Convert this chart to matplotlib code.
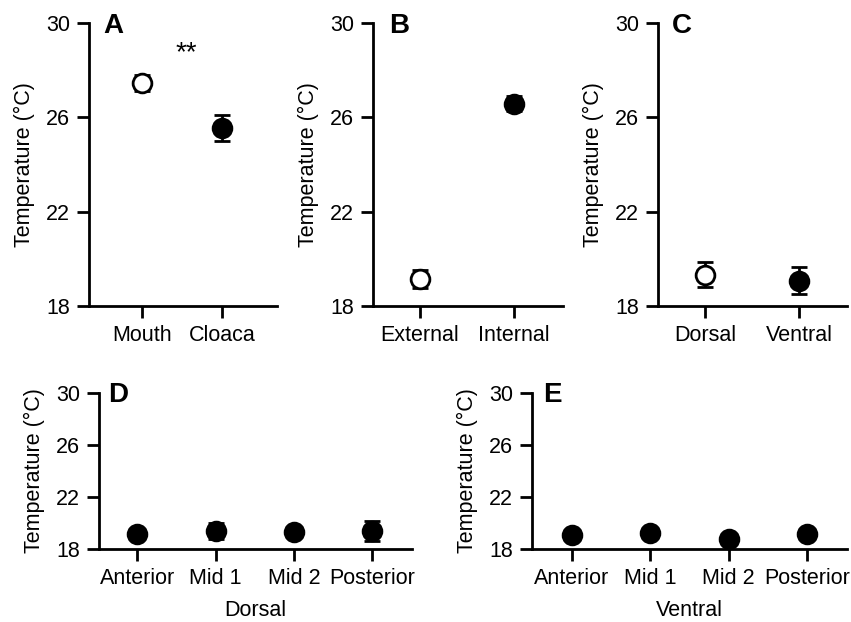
import matplotlib
matplotlib.use("Agg")
import matplotlib.pyplot as plt
from matplotlib.transforms import ScaledTranslation

plt.rcParams['font.family'] = ['Liberation Sans', 'DejaVu Sans']

# Data
a_cats = ["Mouth", "Cloaca"]
a_mean = [27.46, 25.55]
a_err = [0.35, 0.57]
a_fill = ["white", "black"]

b_cats = ["External", "Internal"]
b_mean = [19.15, 26.57]
b_err = [0.38, 0.32]
b_fill = ["white", "black"]

c_cats = ["Dorsal", "Ventral"]
c_mean = [19.32, 19.07]
c_err = [0.53, 0.57]
c_fill = ["white", "black"]

d_cats = ["Anterior", "Mid 1", "Mid 2", "Posterior"]
d_mean = [19.15, 19.38, 19.3, 19.38]
d_err = [0.3, 0.6, 0.35, 0.75]

e_cats = ["Anterior", "Mid 1", "Mid 2", "Posterior"]
e_mean = [19.08, 19.23, 18.77, 19.15]
e_err = [0.3, 0.3, 0.3, 0.3]

yticks = [18, 22, 26, 30]

fig = plt.figure(figsize=(8.51, 6.22), dpi=100)

H = 622.0
W = 851.0
FS = 15.5

def make_ax(x0, x1, ytop, ybot):
    return fig.add_axes([x0 / W, 1 - ybot / H, (x1 - x0) / W, (ybot - ytop) / H])

def style(ax, cats, xlim, letter, dx_px, xlabel=None):
    ax.set_ylim(18, 30)
    ax.set_xlim(*xlim)
    ax.set_yticks(yticks)
    ax.set_xticks(range(len(cats)))
    ax.set_xticklabels(cats)
    for s in ["top", "right"]:
        ax.spines[s].set_visible(False)
    for s in ["left", "bottom"]:
        ax.spines[s].set_linewidth(2)
    ax.tick_params(axis="both", width=2, length=8.5, labelsize=FS, direction="out",
                   color="black", pad=5)
    ax.set_ylabel("Temperature (°C)", fontsize=FS, labelpad=8)
    tr = ax.transAxes + ScaledTranslation(dx_px / 100.0, 0, fig.dpi_scale_trans)
    ax.text(0.0, 0.99, letter, transform=tr, fontsize=20, fontweight="bold",
            va="center", ha="left")
    if xlabel:
        ax.set_xlabel(xlabel, fontsize=FS, labelpad=8)

def plot_points(ax, means, errs, fills):
    for i, (m, e, f) in enumerate(zip(means, errs, fills)):
        ax.errorbar(i, m, yerr=e, fmt="o", color="black", markerfacecolor=f,
                    markeredgecolor="black", markeredgewidth=2, markersize=13.5,
                    capsize=6, elinewidth=2, capthick=2, clip_on=False, zorder=3)

axA = make_ax(89, 277, 23, 306)
plot_points(axA, a_mean, a_err, a_fill)
style(axA, a_cats, (-0.66, 1.69), "A", 14)
axA.text(0.55, 28.7, "**", fontsize=20, ha="center", va="center")

axB = make_ax(373, 563, 23, 306)
plot_points(axB, b_mean, b_err, b_fill)
style(axB, b_cats, (-0.5, 1.52), "B", 16)

axC = make_ax(658, 847, 23, 306)
plot_points(axC, c_mean, c_err, c_fill)
style(axC, c_cats, (-0.5, 1.51), "C", 14)

axD = make_ax(99, 412, 393, 549)
plot_points(axD, d_mean, d_err, ["black"] * 4)
style(axD, d_cats, (-0.49, 3.51), "D", 9, "Dorsal")

axE = make_ax(532, 847, 393, 549)
plot_points(axE, e_mean, e_err, ["black"] * 4)
style(axE, e_cats, (-0.51, 3.51), "E", 11, "Ventral")

fig.savefig("out.png", dpi=100)
